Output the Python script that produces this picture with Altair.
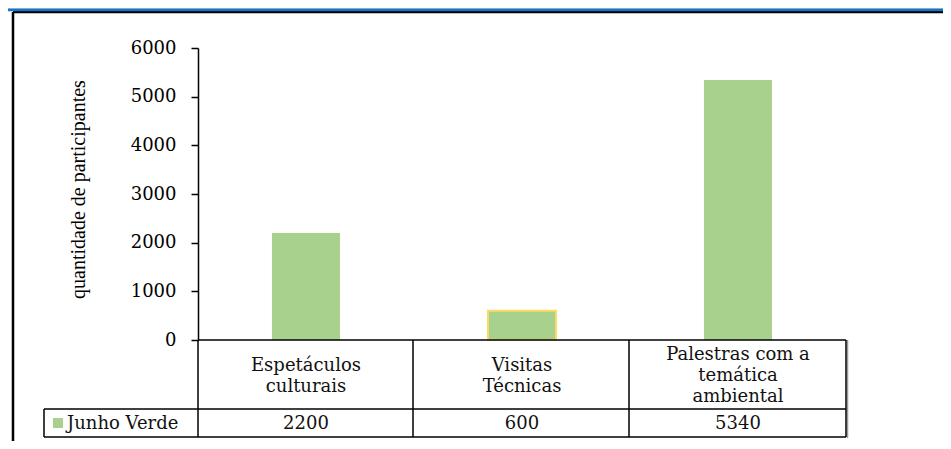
import altair as alt
import pandas as pd

# ---- data ----
categories = ["Espetáculos culturais", "Visitas Técnicas", "Palestras com a temática ambiental"]
header_lines = ["Espetáculos\nculturais", "Visitas\nTécnicas", "Palestras com a\ntemática\nambiental"]
values = [2200, 600, 5340]
series_name = "Junho Verde"
y_ticks = [0, 1000, 2000, 3000, 4000, 5000, 6000]
y_title = "quantidade de participantes"

df = pd.DataFrame({"cat": categories, "label": header_lines, "value": values})

GREEN = "#a9d18e"
SERIF_WIDE = "DejaVu Serif"
SERIF = "Liberation Serif, Times New Roman, serif"
W, H = 648, 292
LH = 21

one = alt.Data(values=[{}])

xenc = alt.X("cat:N", sort=categories,
             scale=alt.Scale(paddingInner=0.685, paddingOuter=0.3425), axis=None)

bars = alt.Chart(df).mark_bar(color=GREEN).encode(
    x=xenc,
    y=alt.Y("value:Q", scale=alt.Scale(domain=[0, 6000], nice=False),
            axis=alt.Axis(values=y_ticks, format="d", grid=False,
                          domainColor="black", domainWidth=1.5,
                          tickColor="black", tickWidth=1.5, tickSize=7,
                          labelFont=SERIF_WIDE, labelFontSize=18, labelColor="black",
                          labelPadding=15,
                          title=y_title, titleFont=SERIF, titleFontSize=20,
                          titleFontWeight="normal", titleColor="black",
                          titleAngle=270, titleAlign="center", titleBaseline="alphabetic",
                          titleX=-114, titleY=141)),
    stroke=alt.condition("datum.cat === 'Visitas Técnicas'", alt.value("#ffd966"), alt.value(GREEN)),
    strokeWidth=alt.condition("datum.cat === 'Visitas Técnicas'", alt.value(2), alt.value(0)),
)

def hrule(y, x1, x2, color="black", w=1.5):
    return alt.Chart(one).mark_rule(color=color, strokeWidth=w).encode(
        x=alt.value(x1), x2=alt.value(x2), y=alt.value(y))

def vrule(x, y1, y2, color="black", w=1.5):
    return alt.Chart(one).mark_rule(color=color, strokeWidth=w).encode(
        x=alt.value(x), y=alt.value(y1), y2=alt.value(y2))

# table grid
lines = [
    hrule(292, 0, W),
    hrule(361, -154, W),
    hrule(389, -154, W),
    vrule(0, 292, 389),
    vrule(215, 292, 389),
    vrule(431, 292, 389),
    vrule(649.5, 292, 390, color="#999", w=1.5),
    vrule(648, 292, 389),
    vrule(-154, 361, 389),
    # outer frame
    hrule(-36, -185, 760, w=2.5),
    vrule(-185, -36, 420, w=2.5),
    # blue top band
    hrule(-39.5, -200, 760, color="#9cc3ea", w=1),
    hrule(-38, -200, 760, color="#1a72c4", w=2.5),
]

# header text block centred vertically in the header row (row centre at 328)
headers = alt.Chart(df).transform_calculate(
    nlines="length(split(datum.label, '\\n'))"
).transform_calculate(
    ypos=f"328 - (datum.nlines - 1) * {LH} / 2"
).mark_text(font=SERIF_WIDE, fontSize=18, color="#111",
            lineBreak="\n", lineHeight=LH, baseline="middle",
            align="center").encode(
    x=xenc, y=alt.Y("ypos:Q", scale=None), text="label:N")

vals = alt.Chart(df).mark_text(font=SERIF_WIDE, fontSize=18, color="#111",
                               baseline="middle", align="center").encode(
    x=xenc, y=alt.value(376), text="value:Q")

legend_sq = alt.Chart(alt.Data(values=[{"s": series_name}])).mark_square(
    color=GREEN, size=100, opacity=1).encode(x=alt.value(-140), y=alt.value(375))

legend_txt = alt.Chart(alt.Data(values=[{"s": series_name}])).mark_text(
    font=SERIF_WIDE, fontSize=18, color="#111", align="left", baseline="middle").encode(
    x=alt.value(-131), y=alt.value(376), text="s:N")

chart = alt.layer(bars, headers, vals, legend_sq, legend_txt, *lines).properties(
    width=W, height=H,
    autosize=alt.AutoSizeParams(type="none"),
    padding={"left": 190, "top": 40, "right": 97, "bottom": 101},
    background="white",
).configure_view(stroke=None)

chart.save("out.html", embed_options={"renderer": "svg", "actions": False})
